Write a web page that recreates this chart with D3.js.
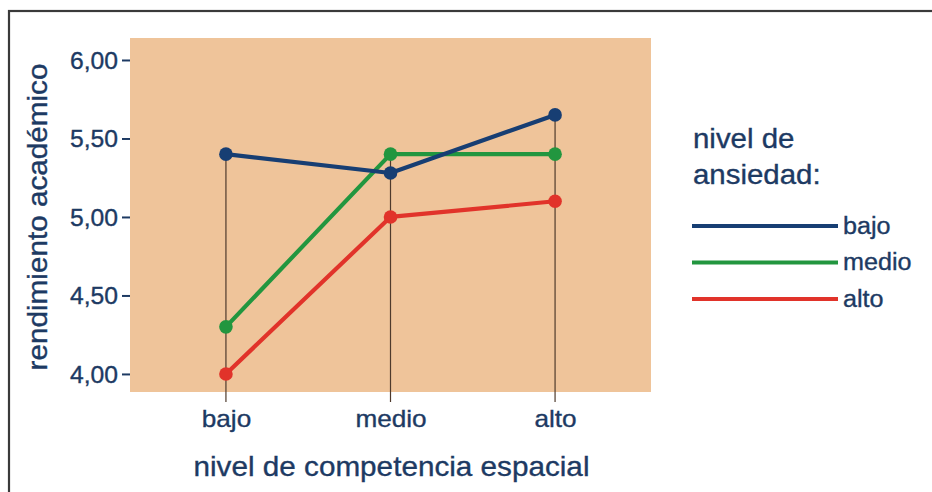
<!DOCTYPE html>
<html>
<head>
<meta charset="utf-8">
<script src="https://cdn.jsdelivr.net/npm/d3@7"></script>
<style>
  html, body { margin: 0; padding: 0; background: #ffffff; }
  svg { display: block; }
  text { font-family: "Liberation Sans", Arial, sans-serif; }
</style>
</head>
<body>
<svg id="chart" width="932" height="492"></svg>
<script>
// ---- data ----
const categories = ["bajo", "medio", "alto"];
const seriesNames = ["bajo", "medio", "alto"];
const valuesBajo  = [5.40, 5.28, 5.65];
const valuesMedio = [4.30, 5.40, 5.40];
const valuesAlto  = [4.00, 5.00, 5.10];
const yTickValues = [4.0, 4.5, 5.0, 5.5, 6.0];
const yTickLabels = ["4,00", "4,50", "5,00", "5,50", "6,00"];
const xTitle = "nivel de competencia espacial";
const yTitle = "rendimiento académico";
const legendTitle = ["nivel de", "ansiedad:"];

const series = [
  { name: seriesNames[0], values: valuesBajo,  color: "#173e73" },
  { name: seriesNames[1], values: valuesMedio, color: "#22963f" },
  { name: seriesNames[2], values: valuesAlto,  color: "#e1332a" }
];

const textColor = "#1d3a63";

const svg = d3.select("#chart");

// outer frame
svg.append("rect")
  .attr("x", 9).attr("y", 11).attr("width", 1000).attr("height", 1000)
  .attr("fill", "none").attr("stroke", "#3a3a3a").attr("stroke-width", 2.2);

const panel = { left: 130, right: 651, top: 38, bottom: 392 };

const x = d3.scalePoint().domain(categories)
  .range([panel.left, panel.right]).padding(0.583);
const y = d3.scaleLinear().domain([3.885, 6.14])
  .range([panel.bottom, panel.top]);

// panel background
svg.append("rect")
  .attr("x", panel.left).attr("y", panel.top)
  .attr("width", panel.right - panel.left).attr("height", panel.bottom - panel.top)
  .attr("fill", "#efc49a");

function stretchText(sel, k) {
  sel.each(function () {
    const w = this.getComputedTextLength();
    d3.select(this).attr("textLength", w * k).attr("lengthAdjust", "spacingAndGlyphs");
  });
}
function weight(sel) {
  sel.attr("stroke", textColor).attr("stroke-width", 0.35);
}

// y axis
const yAxis = svg.append("g")
  .attr("transform", `translate(${panel.left},0)`)
  .call(d3.axisLeft(y).tickValues(yTickValues)
    .tickFormat((d, i) => yTickLabels[i]).tickSize(8).tickPadding(4));
yAxis.select(".domain").remove();
yAxis.selectAll(".tick line").attr("stroke", textColor).attr("stroke-width", 2);
yAxis.selectAll(".tick text")
  .attr("fill", textColor).style("font-size", "23.5px")
  .style("font-family", "'Liberation Sans', Arial, sans-serif")
  .attr("dy", "0.36em")
  .call(weight)
  .call(stretchText, 1.05);

// vertical drop lines from highest point to below panel
const maxByCat = categories.map((c, i) => d3.max(series, s => s.values[i]));
svg.append("g").selectAll("line")
  .data(categories)
  .join("line")
  .attr("x1", d => x(d)).attr("x2", d => x(d))
  .attr("y1", (d, i) => y(maxByCat[i]))
  .attr("y2", panel.bottom + 10)
  .attr("stroke", "#4e3a2c").attr("stroke-width", 1.2);

// x axis labels
const xAxis = svg.append("g")
  .attr("transform", `translate(0,${panel.bottom})`)
  .call(d3.axisBottom(x).tickSize(0).tickPadding(20));
xAxis.select(".domain").remove();
xAxis.selectAll(".tick text")
  .attr("fill", textColor).style("font-size", "24px")
  .style("font-family", "'Liberation Sans', Arial, sans-serif")
  .attr("y", 35).attr("dy", 0)
  .call(weight)
  .call(stretchText, 1.09);

// lines
const line = d3.line()
  .x((d, i) => x(categories[i]))
  .y(d => y(d));

const seriesDrawOrder = series.slice().reverse();
const sg = svg.append("g").selectAll("g")
  .data(seriesDrawOrder)
  .join("g");
sg.append("path")
  .attr("d", d => line(d.values))
  .attr("fill", "none")
  .attr("stroke", d => d.color)
  .attr("stroke-width", 4.2)
  .attr("stroke-linejoin", "round");
sg.selectAll("circle")
  .data(d => d.values.map((v, i) => ({ v, i, color: d.color })))
  .join("circle")
  .attr("cx", d => x(categories[d.i]))
  .attr("cy", d => y(d.v))
  .attr("r", 6.8)
  .attr("fill", d => d.color);

// axis titles
svg.append("text")
  .attr("x", (panel.left + panel.right) / 2 + 1).attr("y", 476)
  .attr("text-anchor", "middle")
  .attr("fill", textColor).style("font-size", "28px")
  .text(xTitle)
  .call(weight)
  .call(stretchText, 1.06);

svg.append("text")
  .attr("transform", `translate(47,${(panel.top + panel.bottom) / 2 + 2}) rotate(-90)`)
  .attr("text-anchor", "middle")
  .attr("fill", textColor).style("font-size", "28px")
  .text(yTitle)
  .call(weight)
  .call(stretchText, 1.06);

// legend
const legend = svg.append("g");
legend.selectAll("text.title")
  .data(legendTitle)
  .join("text")
  .attr("class", "title")
  .attr("x", 693)
  .attr("y", (d, i) => 148 + i * 36)
  .attr("fill", textColor).style("font-size", "27.5px")
  .text(d => d)
  .call(weight)
  .call(stretchText, 1.07);

const li = legend.selectAll("g.item")
  .data(series)
  .join("g")
  .attr("class", "item")
  .attr("transform", (d, i) => `translate(0,${226 + i * 36.5})`);
li.append("line")
  .attr("x1", 692).attr("x2", 838)
  .attr("stroke", d => d.color).attr("stroke-width", 4);
li.append("text")
  .attr("x", 843).attr("y", 7.5)
  .attr("fill", textColor).style("font-size", "23.5px")
  .text(d => d.name)
  .call(weight)
  .call(stretchText, 1.07);
</script>
</body>
</html>
